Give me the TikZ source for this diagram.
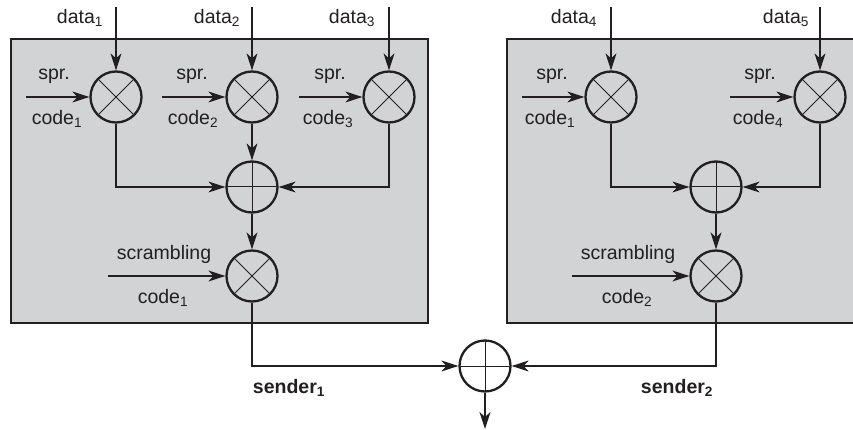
\documentclass[tikz,border=0pt]{standalone}
\usepackage{fontspec}
\setmainfont{Liberation Sans}
\usetikzlibrary{arrows.meta}
\definecolor{boxgray}{RGB}{209,211,212}
\definecolor{ink}{RGB}{35,31,32}
\begin{document}
\begin{tikzpicture}[x=1pt,y=-1pt,
  every node/.style={text=ink},
  lbl/.style={font=\fontsize{19.5}{21}\selectfont, inner sep=0pt},
  blbl/.style={font=\fontsize{19.5}{21}\selectfont\bfseries, inner sep=0pt},
  arr/.style={draw=ink, line width=1.1pt, -{Stealth[length=17pt,width=11pt,inset=5pt]}},
  mul/.style={circle, draw=ink, line width=2.3pt, minimum size=51pt, inner sep=0pt,
    path picture={\draw[ink, line width=0.8pt]
      (path picture bounding box.north west) -- (path picture bounding box.south east)
      (path picture bounding box.north east) -- (path picture bounding box.south west);}},
  add/.style={circle, draw=ink, line width=2.3pt, minimum size=51pt, inner sep=0pt,
    path picture={\draw[ink, line width=1pt]
      (path picture bounding box.north) -- (path picture bounding box.south)
      (path picture bounding box.west) -- (path picture bounding box.east);}},
  sbox/.style={fill=boxgray, draw=ink, line width=2pt}
]
\useasboundingbox (0,0) rectangle (853,430);
\clip (0,0) rectangle (853,430);

% boxes
\path[sbox] (11,39) rectangle (428,323);
\path[sbox] (507,39) rectangle (870,323);

% left sender nodes
\node[mul] (m1) at (116,97) {};
\node[mul] (m2) at (252,97) {};
\node[mul] (m3) at (389,97) {};
\node[add] (a1) at (252,187) {};
\node[mul] (sc1) at (252,276) {};

% right sender nodes
\node[mul] (m4) at (611,97) {};
\node[mul] (m5) at (820,97) {};
\node[add] (a2) at (716,187) {};
\node[mul] (sc2) at (716,276) {};

% final adder
\node[add] (fa) at (485,366) {};

% input coordinates
\coordinate (d1) at (116,7);
\coordinate (d2) at (252,7);
\coordinate (d3) at (389,7);
\coordinate (d4) at (611,7);
\coordinate (d5) at (820,7);
\coordinate (c1) at (26,97);
\coordinate (c2) at (162,97);
\coordinate (c3) at (299,97);
\coordinate (c4) at (522,97);
\coordinate (c5) at (730,97);
\coordinate (s1) at (108,276);
\coordinate (s2) at (572,276);
\coordinate (out) at (485,429);

% connectors
\draw[arr] (d1) -- (m1);
\draw[arr] (d2) -- (m2);
\draw[arr] (d3) -- (m3);
\draw[arr] (d4) -- (m4);
\draw[arr] (d5) -- (m5);
\draw[arr] (c1) -- (m1);
\draw[arr] (c2) -- (m2);
\draw[arr] (c3) -- (m3);
\draw[arr] (c4) -- (m4);
\draw[arr] (c5) -- (m5);
\draw[arr] (m1) |- (a1);
\draw[arr] (m2) -- (a1);
\draw[arr] (m3) |- (a1);
\draw[arr] (m4) |- (a2);
\draw[arr] (m5) |- (a2);
\draw[arr] (a1) -- (sc1);
\draw[arr] (a2) -- (sc2);
\draw[arr] (s1) -- (sc1);
\draw[arr] (s2) -- (sc2);
\draw[arr] (sc1) |- (fa);
\draw[arr] (sc2) |- (fa);
\draw[arr] (fa) -- (out);

% labels
\node[lbl] (ld1) at (80,18) {data\textsubscript{1}};
\node[lbl] (ld2) at (217,18) {data\textsubscript{2}};
\node[lbl] (ld3) at (352,18) {data\textsubscript{3}};
\node[lbl] (ld4) at (574,18) {data\textsubscript{4}};
\node[lbl] (ld5) at (786,18) {data\textsubscript{5}};

\node[lbl] (sp1) at (54,76) {spr.};
\node[lbl] (co1) at (57,119) {code\textsubscript{1}};
\node[lbl] (sp2) at (192,76) {spr.};
\node[lbl] (co2) at (193,119) {code\textsubscript{2}};
\node[lbl] (sp3) at (330,76) {spr.};
\node[lbl] (co3) at (328,119) {code\textsubscript{3}};
\node[lbl] (sp4) at (552,76) {spr.};
\node[lbl] (co4) at (550,119) {code\textsubscript{1}};
\node[lbl] (sp5) at (760,76) {spr.};
\node[lbl] (co5) at (758,119) {code\textsubscript{4}};

\node[lbl] (scr1) at (164,254) {scrambling};
\node[lbl] (scc1) at (163,298) {code\textsubscript{1}};
\node[lbl] (scr2) at (628,254) {scrambling};
\node[lbl] (scc2) at (627,298) {code\textsubscript{2}};

\node[blbl] (snd1) at (289,388) {sender\textsubscript{1}};
\node[blbl] (snd2) at (677,388) {sender\textsubscript{2}};
\end{tikzpicture}
\end{document}
